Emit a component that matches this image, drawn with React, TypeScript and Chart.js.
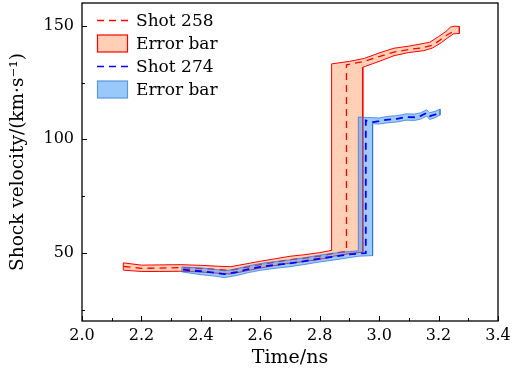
import React, { useEffect, useRef } from 'react';
import { Chart, registerables } from 'chart.js';

Chart.register(...registerables);

const FONT = "'DejaVu Serif', serif";

// Shot 258 (centre line)
const shot258Time = [2.14, 2.2, 2.26, 2.33, 2.4, 2.46, 2.5, 2.55, 2.6, 2.65, 2.7, 2.75, 2.8, 2.85, 2.89, 2.89, 2.95, 3.0, 3.05, 3.1, 3.15, 3.18, 3.2, 3.22, 3.24, 3.26];
const shot258Vel = [44.0, 43.2, 43.3, 43.5, 43.1, 42.6, 42.3, 43.6, 44.8, 45.9, 47.0, 47.7, 48.6, 49.9, 50.6, 132.8, 134.3, 136.4, 138.4, 139.5, 140.4, 141.5, 143.2, 145.3, 146.8, 147.8];
// Shot 258 error band
const err258UpperTime = [2.139, 2.2, 2.26, 2.33, 2.4, 2.46, 2.5, 2.55, 2.6, 2.65, 2.7, 2.75, 2.8, 2.84, 2.84, 2.9, 2.95, 3.0, 3.05, 3.1, 3.17, 3.2, 3.225, 3.24, 3.255, 3.27];
const err258UpperVel = [45.6, 44.6, 44.7, 44.8, 44.5, 44.1, 43.9, 45.1, 46.3, 47.4, 48.5, 49.2, 50.1, 51.1, 133.2, 134.3, 135.6, 138.0, 140.1, 141.0, 142.7, 145.2, 147.5, 149.4, 149.8, 149.6];
const err258LowerTime = [2.139, 2.2, 2.26, 2.33, 2.4, 2.46, 2.5, 2.55, 2.6, 2.65, 2.7, 2.75, 2.8, 2.85, 2.9, 2.945, 2.945, 3.0, 3.05, 3.1, 3.15, 3.18, 3.21, 3.23, 3.25, 3.27];
const err258LowerVel = [42.4, 41.8, 41.8, 41.9, 41.6, 41.0, 40.7, 42.0, 43.3, 44.4, 45.5, 46.2, 47.1, 48.6, 49.7, 50.3, 131.7, 134.3, 136.8, 138.2, 139.0, 140.2, 142.6, 144.6, 146.4, 146.6];

// Shot 274 (centre line)
const shot274Time = [2.34, 2.4, 2.45, 2.48, 2.52, 2.56, 2.6, 2.65, 2.7, 2.75, 2.8, 2.85, 2.9, 2.955, 2.955, 2.98, 3.0, 3.03, 3.06, 3.09, 3.12, 3.14, 3.16, 3.17, 3.19, 3.205];
const shot274Vel = [42.6, 41.9, 41.2, 40.6, 41.5, 42.8, 43.8, 44.7, 45.4, 46.4, 47.5, 48.4, 49.3, 49.9, 108.3, 107.6, 108.0, 108.7, 109.0, 109.8, 109.7, 110.3, 111.6, 110.2, 111.0, 112.0];
// Shot 274 error band
const err274UpperTime = [2.336, 2.4, 2.45, 2.48, 2.52, 2.56, 2.6, 2.65, 2.7, 2.75, 2.8, 2.85, 2.9, 2.93, 2.93, 2.96, 3.0, 3.03, 3.06, 3.09, 3.12, 3.14, 3.16, 3.17, 3.19, 3.205];
const err274UpperVel = [43.8, 43.4, 42.7, 42.1, 43.0, 44.3, 45.3, 46.2, 46.9, 47.9, 49.0, 49.9, 50.6, 50.9, 109.8, 109.6, 109.4, 110.1, 110.4, 111.2, 111.1, 111.7, 113.0, 111.7, 112.4, 113.3];
const err274LowerTime = [2.336, 2.4, 2.45, 2.48, 2.52, 2.56, 2.6, 2.65, 2.7, 2.75, 2.8, 2.85, 2.9, 2.93, 2.978, 2.978, 3.0, 3.03, 3.06, 3.09, 3.12, 3.14, 3.16, 3.17, 3.19, 3.205];
const err274LowerVel = [41.6, 40.4, 39.7, 39.1, 40.0, 41.3, 42.3, 43.2, 43.9, 44.9, 46.0, 46.9, 47.9, 48.5, 48.8, 106.9, 106.7, 107.3, 107.6, 108.4, 108.3, 108.9, 110.2, 108.7, 109.6, 110.7];

// Axes
const xMajorTicks = [2.0, 2.2, 2.4, 2.6, 2.8, 3.0, 3.2, 3.4];
const xMinorTicks = [2.1, 2.3, 2.5, 2.7, 2.9, 3.1, 3.3];
const yMajorTicks = [50, 100, 150];
const yMinorTicks = [25, 75, 125];
const seriesLabels = ['Shot 258', 'Error bar', 'Shot 274', 'Error bar'];

const RED = '#ff0000';
const RED_FILL = '#ffd0b6';
const BLUE = '#0000ff';
const BLUE_FILL = 'rgba(40,140,255,0.45)';
const BLUE_EDGE = 'rgba(40,110,220,0.7)';

function pts(xs: number[], ys: number[]) {
  return xs.map((x, i) => ({ x, y: ys[i] }));
}
function polygon(ux: number[], uy: number[], lx: number[], ly: number[]) {
  const up = pts(ux, uy);
  const lo = pts(lx, ly).reverse();
  return [...up, ...lo, up[0]];
}

const framePlugin = {
  id: 'frameTicks',
  afterDraw(chart: any) {
    const { ctx, chartArea: a, scales } = chart;
    const xs = scales.x;
    const ys = scales.y;
    ctx.save();
    ctx.strokeStyle = '#000';
    ctx.lineWidth = 1;
    ctx.beginPath();
    const xt = (v: number, len: number) => {
      const px = Math.round(xs.getPixelForValue(v)) + 0.5;
      ctx.moveTo(px, a.bottom);
      ctx.lineTo(px, a.bottom - len);
    };
    const yt = (v: number, len: number) => {
      const py = Math.round(ys.getPixelForValue(v)) + 0.5;
      ctx.moveTo(a.left, py);
      ctx.lineTo(a.left + len, py);
    };
    xMajorTicks.forEach((v) => xt(v, 5));
    xMinorTicks.forEach((v) => xt(v, 3));
    yMajorTicks.forEach((v) => yt(v, 5));
    yMinorTicks.forEach((v) => yt(v, 3));
    ctx.stroke();
    ctx.lineWidth = 1.3;
    ctx.strokeRect(a.left, a.top, a.right - a.left, a.bottom - a.top);

    // legend
    const bx = a.left + 15;
    const bw = 31;
    const tx = bx + bw + 8;
    const rowY = (i: number) => a.top + 17.5 + i * 23;
    const ds = chart.data.datasets;
    ctx.font = `17px ${FONT}`;
    ctx.textBaseline = 'middle';
    ctx.textAlign = 'left';
    for (let i = 0; i < 4; i++) {
      const d = ds[i];
      const y = rowY(i);
      if (i % 2 === 0) {
        ctx.save();
        ctx.strokeStyle = d.borderColor;
        ctx.lineWidth = 1.3;
        ctx.setLineDash([7, 5]);
        ctx.beginPath();
        ctx.moveTo(bx, y);
        ctx.lineTo(bx + bw, y);
        ctx.stroke();
        ctx.restore();
      } else {
        ctx.save();
        ctx.fillStyle = i === 1 ? RED_FILL : '#99c9fa';
        ctx.strokeStyle = i === 1 ? RED : '#5a97dc';
        ctx.lineWidth = 1.2;
        ctx.fillRect(bx, y - 8.5, bw, 17);
        ctx.strokeRect(bx + 0.5, y - 8.5, bw - 1, 17);
        ctx.restore();
      }
      ctx.fillStyle = '#000';
      ctx.fillText(d.label, tx, y + 1);
    }
    ctx.restore();
  },
};

export default function App() {
  const ref = useRef<HTMLCanvasElement | null>(null);
  useEffect(() => {
    if (!ref.current) return;
    const chart = new Chart(ref.current, {
      type: 'line',
      data: {
        datasets: [
          {
            label: seriesLabels[0],
            data: pts(shot258Time, shot258Vel),
            borderColor: RED,
            borderWidth: 1.3,
            borderDash: [7, 5],
            pointRadius: 0,
            fill: false,
            tension: 0,
            order: 3,
          },
          {
            label: seriesLabels[1],
            data: polygon(err258UpperTime, err258UpperVel, err258LowerTime, err258LowerVel),
            borderColor: RED,
            backgroundColor: RED_FILL,
            borderWidth: 1,
            pointRadius: 0,
            fill: 'shape',
            tension: 0,
            order: 4,
          },
          {
            label: seriesLabels[2],
            data: pts(shot274Time, shot274Vel),
            borderColor: BLUE,
            borderWidth: 1.8,
            borderDash: [7, 5],
            pointRadius: 0,
            fill: false,
            tension: 0,
            order: 1,
          },
          {
            label: seriesLabels[3],
            data: polygon(err274UpperTime, err274UpperVel, err274LowerTime, err274LowerVel),
            borderColor: BLUE_EDGE,
            backgroundColor: BLUE_FILL,
            borderWidth: 1,
            pointRadius: 0,
            fill: 'shape',
            tension: 0,
            order: 2,
          },
        ],
      },
      options: {
        animation: false,
        responsive: false,
        devicePixelRatio: 1,
        events: [],
        layout: { padding: { top: 3, right: 14, left: 0, bottom: 0 } },
        plugins: { legend: { display: false }, tooltip: { enabled: false } },
        scales: {
          x: {
            type: 'linear',
            min: 2.0,
            max: 3.4,
            grid: { display: false, drawTicks: false },
            border: { display: false },
            afterBuildTicks: (s: any) => {
              s.ticks = xMajorTicks.map((v) => ({ value: v }));
            },
            afterFit: (s: any) => {
              s.height = 58;
              s.paddingLeft = 0;
              s.paddingRight = 0;
              s.paddingTop = 0;
              s.paddingBottom = 0;
            },
            ticks: {
              color: '#000',
              font: { family: FONT, size: 16 },
              padding: 5,
              maxRotation: 0,
              autoSkip: false,
              callback: (v: any) => Number(v).toFixed(1),
            },
            title: {
              display: true,
              text: 'Time/ns',
              color: '#000',
              font: { family: FONT, size: 19 },
              padding: { top: 0, bottom: 10 },
            },
          },
          y: {
            type: 'linear',
            min: 20,
            max: 160,
            grid: { display: false, drawTicks: false },
            border: { display: false },
            afterBuildTicks: (s: any) => {
              s.ticks = yMajorTicks.map((v) => ({ value: v }));
            },
            afterFit: (s: any) => {
              s.width = 82;
              s.paddingLeft = 0;
              s.paddingRight = 0;
              s.paddingTop = 0;
              s.paddingBottom = 0;
            },
            ticks: {
              color: '#000',
              font: { family: FONT, size: 16 },
              padding: 8,
              callback: (v: any) => String(v),
            },
            title: {
              display: true,
              text: 'Shock velocity/(km·s⁻¹)',
              color: '#000',
              font: { family: FONT, size: 18.5 },
              padding: { top: 7, bottom: 0 },
            },
          },
        },
      },
      plugins: [framePlugin],
    } as any);
    return () => chart.destroy();
  }, []);
  return (
    <div style={{ position: 'absolute', left: 0, top: 0, width: 512, height: 379, background: '#fff' }}>
      <canvas ref={ref} width={512} height={379} style={{ display: 'block' }} />
    </div>
  );
}
